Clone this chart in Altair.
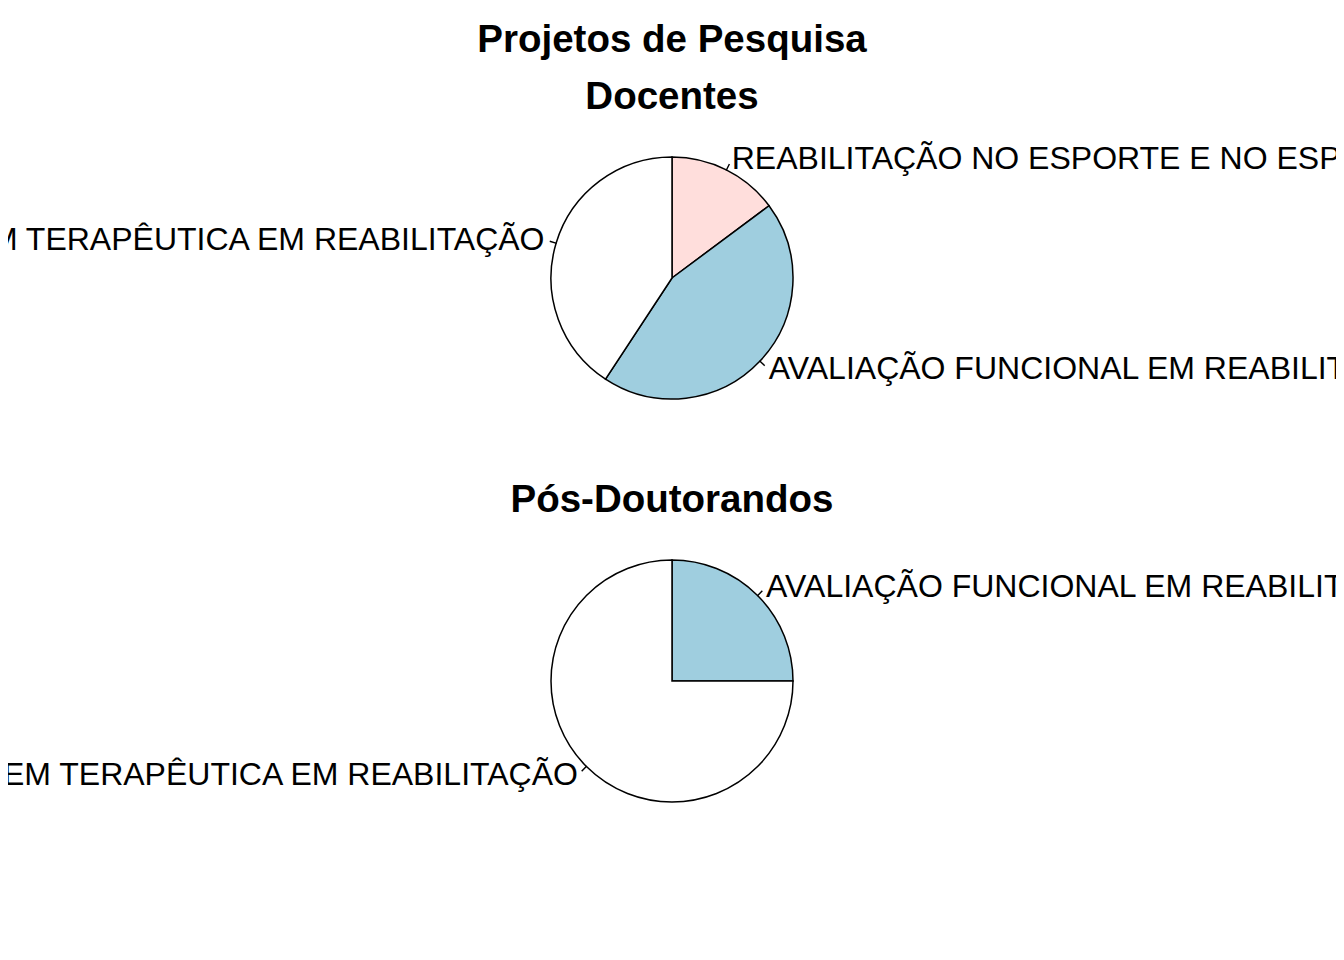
import altair as alt
import pandas as pd

# ---- data ----
groups = ["Docentes", "Docentes", "Docentes", "Pós-Doutorandos", "Pós-Doutorandos"]
labels = [
    "REABILITAÇÃO NO ESPORTE E NO ESPORTE ADAPTADO",
    "AVALIAÇÃO FUNCIONAL EM REABILITAÇÃO",
    "INOVAÇÃO EM TERAPÊUTICA EM REABILITAÇÃO",
    "AVALIAÇÃO FUNCIONAL EM REABILITAÇÃO",
    "INOVAÇÃO EM TERAPÊUTICA EM REABILITAÇÃO",
]
counts = [4, 12, 11, 1, 3]
slice_order = [1, 2, 3, 1, 2]
colors = ["#FFDEDC", "#9FCEDF", "#FFFFFF", "#9FCEDF", "#FFFFFF"]

df = pd.DataFrame({
    "grupo": groups,
    "linha": labels,
    "n": counts,
    "ordem": slice_order,
    "cor": colors,
})

FONT = "Liberation Sans"
R = 121
TWO_PI = "6.283185307179586"


def panel(group, title):
    base = (
        alt.Chart(df)
        .transform_filter(alt.datum.grupo == group)
        .transform_joinaggregate(total="sum(n)")
        .transform_window(cum="sum(n)", sort=[alt.SortField("ordem")], frame=[None, 0])
        .transform_calculate(
            t0=f"(datum.cum - datum.n) / datum.total * {TWO_PI}",
            t1=f"datum.cum / datum.total * {TWO_PI}",
        )
        .transform_calculate(mid="(datum.t0 + datum.t1) / 2")
        .transform_calculate(mid2="datum.mid + 0.002", lado="sin(datum.mid) >= 0 ? 'dir' : 'esq'")
    )
    arcs = base.mark_arc(radius=R, stroke="black", strokeWidth=1.5).encode(
        theta=alt.Theta("t0:Q", scale=None),
        theta2="t1:Q",
        fill=alt.Fill("cor:N", scale=None),
    )
    ticks = base.mark_arc(radius=R, radius2=R * 1.05, stroke="black", strokeWidth=1.2, fill=None).encode(
        theta=alt.Theta("mid:Q", scale=None),
        theta2="mid2:Q",
    )
    txt_r = base.transform_filter(alt.datum.lado == "dir").mark_text(
        radius=R * 1.1, align="left", baseline="middle", font=FONT, fontSize=32, color="black", clip=True
    ).encode(theta=alt.Theta("mid:Q", scale=None), text="linha:N")
    txt_l = base.transform_filter(alt.datum.lado == "esq").mark_text(
        radius=R * 1.1, align="right", baseline="middle", font=FONT, fontSize=32, color="black", clip=True
    ).encode(theta=alt.Theta("mid:Q", scale=None), text="linha:N")
    return alt.layer(arcs, ticks, txt_r, txt_l).properties(
        width=1328,
        height=300,
        title=alt.TitleParams(
            title,
            font=FONT,
            fontSize=38.5,
            fontWeight="bold",
            color="black",
            anchor="middle",
            baseline="alphabetic",
            lineHeight=57,
            offset=-19,
        ),
    )


top = panel("Docentes", ["Projetos de Pesquisa", "Docentes"])
bottom = panel("Pós-Doutorandos", "Pós-Doutorandos")

chart = (
    alt.vconcat(top, bottom, spacing=52)
    .properties(padding={"top": 12, "left": 0, "right": 0, "bottom": 0}, background="white")
    .configure_view(stroke=None)
)

chart.save("out.html", embed_options={"renderer": "svg", "actions": False})
